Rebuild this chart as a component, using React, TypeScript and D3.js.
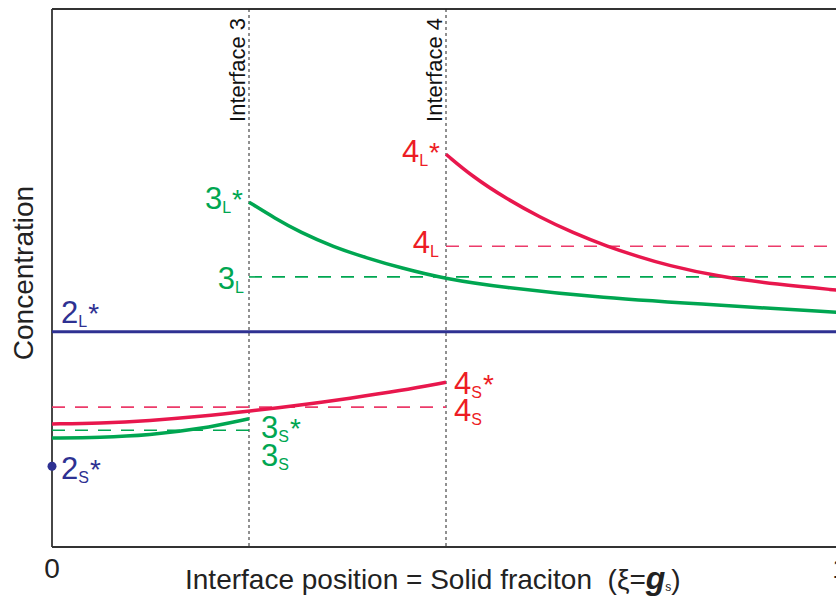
import React from "react";
import * as d3 from "d3";

// ---- data (concentration in arbitrary units, ξ = solid fraction) ----
const interfaces = [0.25, 0.5];
const interfaceLabels = ["Interface 3", "Interface 4"];
const xTicks = [0, 1];

const c2L = 0.4;
const c2S = 0.15;
const c3L = 0.502;
const c4L = 0.559;
const c3S = 0.217;
const c4S = 0.26;

const xi3L = [0.25, 0.283, 0.315, 0.357, 0.4, 0.442, 0.5, 0.569, 0.695, 0.85, 1.0];
const v3L = [0.641, 0.611, 0.585, 0.558, 0.537, 0.519, 0.498, 0.483, 0.463, 0.449, 0.436];

const xi4L = [0.5, 0.534, 0.577, 0.619, 0.661, 0.704, 0.746, 0.78, 0.844, 0.92, 1.0];
const v4L = [0.73, 0.688, 0.647, 0.613, 0.584, 0.559, 0.539, 0.524, 0.503, 0.488, 0.477];

const xi3S = [0, 0.061, 0.124, 0.188, 0.25];
const v3S = [0.2026, 0.2036, 0.2081, 0.2192, 0.2385];

const xi4S = [0, 0.061, 0.124, 0.188, 0.251, 0.315, 0.378, 0.442, 0.5];
const v4S = [0.2286, 0.2302, 0.2348, 0.2425, 0.2525, 0.2635, 0.2764, 0.2905, 0.3061];

// ---- styles ----
const GREEN = "#00a651";
const RED = "#e8174d";
const RED_TXT = "#ed1c24";
const RED_DASH = "#ec3b6a";
const BLUE = "#2e3192";
const FONT = "'Liberation Sans', Arial, Helvetica, sans-serif";

const W = 836;
const H = 600;
const x = d3.scaleLinear().domain([0, 1]).range([52, 840]);
const y = d3.scaleLinear().domain([0, 1]).range([547, 9]);

const line = d3
  .line<[number, number]>()
  .x((d) => x(d[0]))
  .y((d) => y(d[1]))
  .curve(d3.curveBasis);

const zip = (a: number[], b: number[]) => a.map((v, i) => [v, b[i]] as [number, number]);

function Label({
  px,
  py,
  digit,
  sub,
  star,
  color,
  anchor = "start",
}: {
  px: number;
  py: number;
  digit: string;
  sub: string;
  star?: boolean;
  color: string;
  anchor?: string;
}) {
  return (
    <text x={px} y={py} fill={color} fontSize={31} textAnchor={anchor} fontFamily={FONT}>
      {digit}
      <tspan fontSize={16} dy={4}>
        {sub}
      </tspan>
      {star ? (
        <tspan fontSize={28} dy={-4} dx={1}>
          *
        </tspan>
      ) : null}
    </text>
  );
}

export default function App() {
  const i3 = x(interfaces[0]);
  const i4 = x(interfaces[1]);
  return (
    <svg width={W} height={H} style={{ position: "absolute", left: 0, top: 0 }}>
      <rect width={W} height={H} fill="#fff" />
      {/* frame */}
      <line x1={x(0)} x2={W + 10} y1={y(1)} y2={y(1)} stroke="#333" strokeWidth={1.8} />
      <line x1={x(0)} x2={W + 10} y1={y(0)} y2={y(0)} stroke="#333" strokeWidth={1.8} />
      <line x1={x(0)} x2={x(0)} y1={y(1)} y2={y(0)} stroke="#333" strokeWidth={1.8} />

      {/* interface lines */}
      {interfaces.map((v, i) => (
        <g key={i}>
          <line x1={x(v)} x2={x(v)} y1={y(1)} y2={y(0)} stroke="#222" strokeWidth={1} strokeDasharray="3,3" />
          <text
            transform={`translate(${x(v) - 4},18) rotate(-90)`}
            textAnchor="end"
            fontSize={22}
            fontFamily={FONT}
            fill="#111"
          >
            {interfaceLabels[i]}
          </text>
        </g>
      ))}

      {/* dashed equilibrium levels */}
      <line x1={i3} x2={x(1)} y1={y(c3L)} y2={y(c3L)} stroke={GREEN} strokeWidth={1.6} strokeDasharray="13,10" />
      <line x1={i4} x2={x(1)} y1={y(c4L)} y2={y(c4L)} stroke={RED_DASH} strokeWidth={1.6} strokeDasharray="13,10" />
      <line x1={x(0)} x2={i3} y1={y(c3S)} y2={y(c3S)} stroke={GREEN} strokeWidth={1.6} strokeDasharray="13,10" />
      <line x1={x(0)} x2={i4} y1={y(c4S)} y2={y(c4S)} stroke={RED_DASH} strokeWidth={1.6} strokeDasharray="13,10" />

      {/* curves */}
      <line x1={x(0)} x2={x(1)} y1={y(c2L)} y2={y(c2L)} stroke={BLUE} strokeWidth={3} />
      <path d={line(zip(xi3L, v3L)) || ""} fill="none" stroke={GREEN} strokeWidth={3.5} />
      <path d={line(zip(xi4L, v4L)) || ""} fill="none" stroke={RED} strokeWidth={3.5} />
      <path d={line(zip(xi3S, v3S)) || ""} fill="none" stroke={GREEN} strokeWidth={3.5} />
      <path d={line(zip(xi4S, v4S)) || ""} fill="none" stroke={RED} strokeWidth={3.5} />
      <circle cx={x(0)} cy={y(c2S)} r={4.5} fill={BLUE} />

      {/* labels */}
      <Label px={x(0) + 9} py={y(c2L) - 9} digit="2" sub="L" star color={BLUE} />
      <Label px={x(0) + 9} py={y(c2S) + 13} digit="2" sub="S" star color={BLUE} />
      <Label px={i3 - 6} py={y(v3L[0]) + 7} digit="3" sub="L" star color={GREEN} anchor="end" />
      <Label px={i3 - 5} py={y(c3L) + 12} digit="3" sub="L" color={GREEN} anchor="end" />
      <Label px={i4 - 6} py={y(v4L[0]) + 8} digit="4" sub="L" star color={RED_TXT} anchor="end" />
      <Label px={i4 - 7} py={y(c4L) + 7} digit="4" sub="L" color={RED_TXT} anchor="end" />
      <Label px={i4 + 8} py={y(v4S[v4S.length - 1]) + 12} digit="4" sub="S" star color={RED_TXT} />
      <Label px={i4 + 8} py={y(c4S) + 14} digit="4" sub="S" color={RED_TXT} />
      <Label px={i3 + 12} py={y(v3S[v3S.length - 1]) + 19} digit="3" sub="S" star color={GREEN} />
      <Label px={i3 + 12} py={y(c3S) + 36} digit="3" sub="S" color={GREEN} />

      {/* axis labels */}
      {xTicks.map((t) => (
        <text key={t} x={x(t)} y={578} textAnchor="middle" fontSize={28} fontFamily={FONT} fill="#222">
          {t}
        </text>
      ))}
      <text
        transform="translate(33,273) rotate(-90)"
        textAnchor="middle"
        fontSize={28}
        fontFamily={FONT}
        fill="#222"
      >
        Concentration
      </text>
      <text x={185} y={589} fontSize={28} fontFamily={FONT} fill="#222" style={{ whiteSpace: "pre" }}>
        {"Interface position = Solid fraciton  (\u03BE="}
        <tspan fontStyle="italic" fontWeight="bold" fontSize={32}>
          g
        </tspan>
        <tspan fontSize={12} dy={2}>
          s
        </tspan>
        <tspan dy={-2}>)</tspan>
      </text>
    </svg>
  );
}
